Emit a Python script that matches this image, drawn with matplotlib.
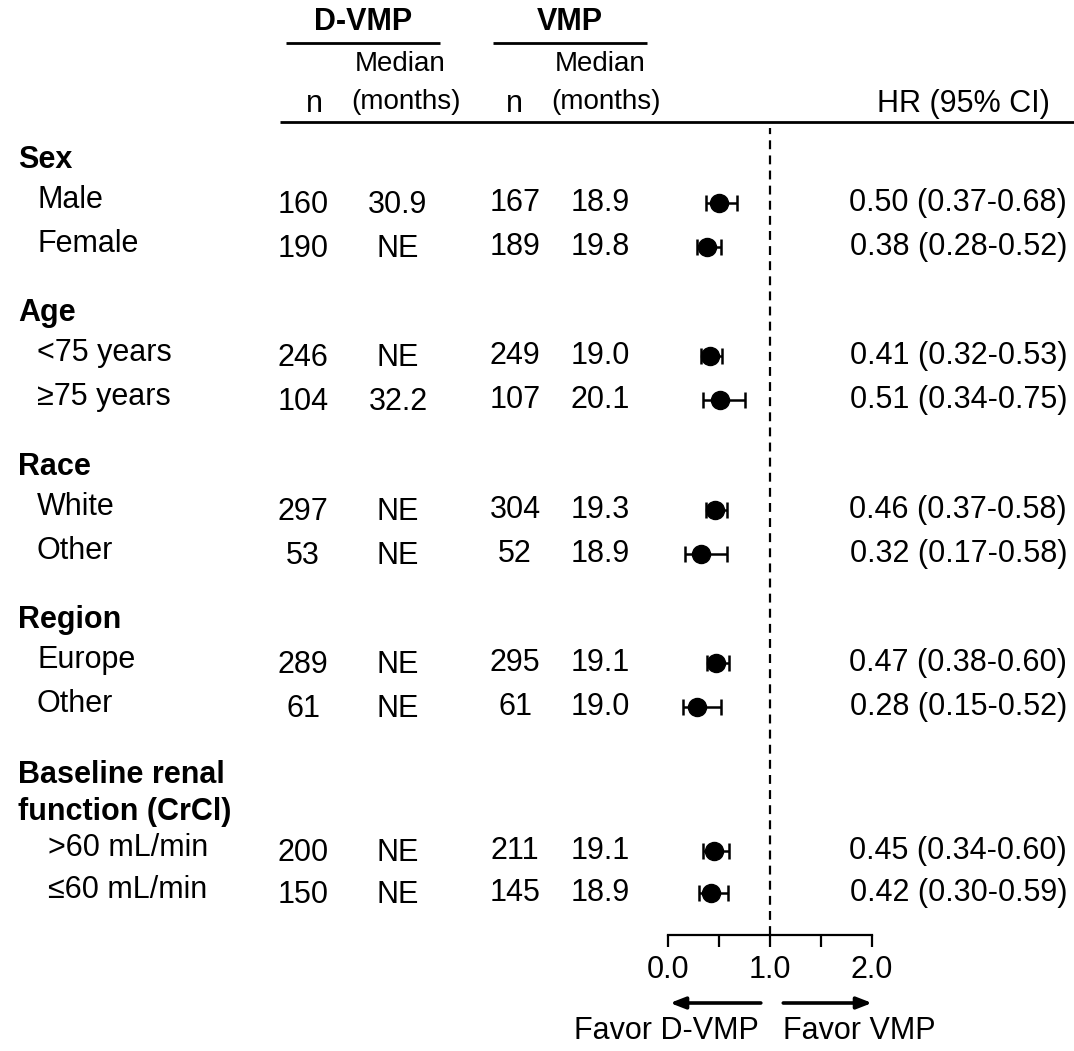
import matplotlib
matplotlib.use("Agg")
import matplotlib.pyplot as plt

plt.rcParams['font.family'] = ['Liberation Sans', 'DejaVu Sans']

# ---------------- data ----------------
group_names = ["Sex", "Age", "Race", "Region", "Baseline renal\nfunction (CrCl)"]
sub_labels = [["Male", "Female"],
              ["<75 years", "\u226575 years"],
              ["White", "Other"],
              ["Europe", "Other"],
              [">60 mL/min", "\u226460 mL/min"]]
n_dvmp = [160, 190, 246, 104, 297, 53, 289, 61, 200, 150]
med_dvmp = ["30.9", "NE", "NE", "32.2", "NE", "NE", "NE", "NE", "NE", "NE"]
n_vmp = [167, 189, 249, 107, 304, 52, 295, 61, 211, 145]
med_vmp = ["18.9", "19.8", "19.0", "20.1", "19.3", "18.9", "19.1", "19.0", "19.1", "18.9"]
hr = [0.50, 0.38, 0.41, 0.51, 0.46, 0.32, 0.47, 0.28, 0.45, 0.42]
hr_lo = [0.37, 0.28, 0.32, 0.34, 0.37, 0.17, 0.38, 0.15, 0.34, 0.30]
hr_hi = [0.68, 0.52, 0.53, 0.75, 0.58, 0.58, 0.60, 0.52, 0.60, 0.59]
xticks = [0.0, 0.5, 1.0, 1.5, 2.0]
xticklabels = ["0.0", "", "1.0", "", "2.0"]

# ---------------- layout (pixels) ----------------
W, H = 1074, 1051
FS = 22
group_y = [160, 313, 467, 620, 775]
row_y = [203, 247, 356, 400, 510, 554, 663, 707, 851, 893]
col_n1, col_m1, col_n2, col_m2, col_hr = 303, 398, 515, 600, 1067

fig = plt.figure(figsize=(W / 100, H / 100), dpi=100)
ax = fig.add_axes([0, 0, 1, 1])
ax.set_xlim(0, W)
ax.set_ylim(H, 0)
ax.axis('off')

# header
ax.text(363, 22, "D-VMP", ha='center', va='center', fontsize=FS, fontweight='bold')
ax.text(570, 22, "VMP", ha='center', va='center', fontsize=FS, fontweight='bold')
ax.plot([286, 440], [43, 43], color='black', lw=2, solid_capstyle='butt')
ax.plot([493, 647], [43, 43], color='black', lw=2, solid_capstyle='butt')
narrow = dict(fontsize=20, family=['Liberation Sans Narrow', 'Liberation Sans'])
ax.text(400, 64, "Median", ha='center', va='center', **narrow)
ax.text(406, 102, "(months)", ha='center', va='center', **narrow)
ax.text(600, 64, "Median", ha='center', va='center', **narrow)
ax.text(606, 102, "(months)", ha='center', va='center', **narrow)
ax.text(314, 104, "n", ha='center', va='center', fontsize=FS)
ax.text(514, 104, "n", ha='center', va='center', fontsize=FS)
ax.text(1050, 104, "HR (95% CI)", ha='right', va='center', fontsize=FS)
ax.plot([280, W], [122, 122], color='black', lw=2, solid_capstyle='butt')

# group headers and rows
k = 0
for g, name in enumerate(group_names):
    lines = name.split("\n")
    for j, ln in enumerate(lines):
        ax.text(18, group_y[g] + 37 * j, ln, ha='left', va='center',
                fontsize=FS, fontweight='bold')
    for lab in sub_labels[g]:
        y = row_y[k]
        indent = 48 if g == 4 else 37
        ax.text(indent, y - 3, lab, ha='left', va='center', fontsize=FS)
        ax.text(col_n1, y + 2, str(n_dvmp[k]), ha='center', va='center', fontsize=FS)
        ax.text(col_m1, y + 2, med_dvmp[k], ha='center', va='center', fontsize=FS)
        ax.text(col_n2, y, str(n_vmp[k]), ha='center', va='center', fontsize=FS)
        ax.text(col_m2, y, med_vmp[k], ha='center', va='center', fontsize=FS)
        ax.text(col_hr, y, f"{hr[k]:.2f} ({hr_lo[k]:.2f}-{hr_hi[k]:.2f})",
                ha='right', va='center', fontsize=FS)
        k += 1

# forest axes
x0, x1 = 668, 872
ytop, ybot = 128, 935
fax = fig.add_axes([x0 / W, (H - ybot) / H, (x1 - x0) / W, (ybot - ytop) / H])
fax.set_xlim(0, 2)
fax.set_ylim(ybot, ytop)
fax.patch.set_alpha(0)
for s in ['top', 'left', 'right']:
    fax.spines[s].set_visible(False)
fax.spines['bottom'].set_linewidth(1.6)
fax.set_yticks([])
fax.set_xticks(xticks)
fax.set_xticklabels(xticklabels, fontsize=FS)
fax.tick_params(axis='x', direction='out', length=8.5, width=1.6, pad=6)

fax.axvline(1.0, color='black', lw=1.6, ls=(0, (4, 2.8)))

err_lo = [h - l for h, l in zip(hr, hr_lo)]
err_hi = [u - h for h, u in zip(hr, hr_hi)]
fax.errorbar(hr, row_y, xerr=[err_lo, err_hi], fmt='o', color='black',
             markersize=13, capsize=6, elinewidth=1.8, capthick=1.8, clip_on=False)

# direction arrows
arr = dict(arrowstyle='-|>,head_length=0.9,head_width=0.35', color='black', lw=2.6,
           shrinkA=0, shrinkB=0)
fax.annotate("", xy=(0.02, 1003), xytext=(0.91, 1003), arrowprops=arr,
             annotation_clip=False)
fax.annotate("", xy=(2.0, 1003), xytext=(1.13, 1003), arrowprops=arr,
             annotation_clip=False)
fax.text(0.89, 1031, "Favor D-VMP", ha='right', va='center', fontsize=FS, clip_on=False)
fax.text(1.13, 1031, "Favor VMP", ha='left', va='center', fontsize=FS, clip_on=False)

fig.savefig("out.png", dpi=100)
